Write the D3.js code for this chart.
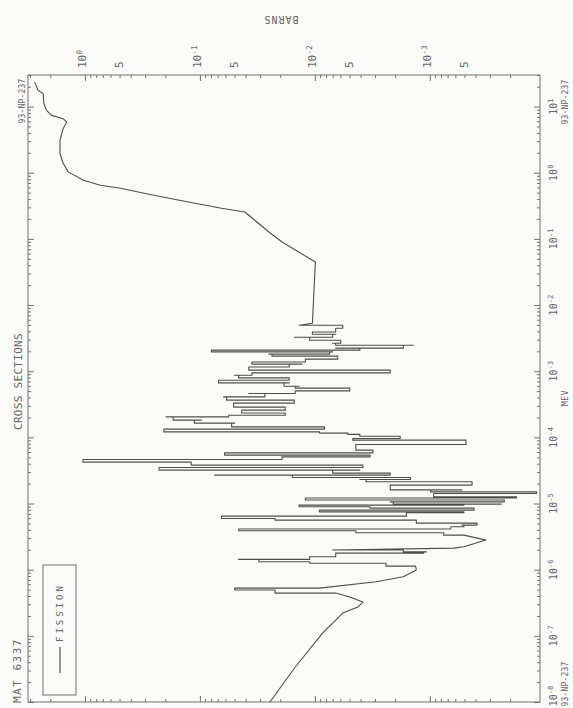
<!DOCTYPE html>
<html><head><meta charset="utf-8">
<script src="https://cdn.jsdelivr.net/npm/d3@7"></script>
<style>html,body{margin:0;padding:0;background:#fafaf8;}svg{display:block;}</style>
</head><body>
<svg id="c" width="573" height="708"></svg>
<script>
// Np-237 fission cross section (MeV, barns). Each level: energy, peak sigma, dip sigma
const energy = [
1.00e-8, 3.38e-8, 1.10e-7, 2.21e-7, 2.72e-7, 3.24e-7, 3.86e-7, 4.43e-7, 4.92e-7, 5.27e-7,
6.56e-7, 7.81e-7, 9.86e-7, 1.13e-6, 1.25e-6, 1.32e-6, 1.43e-6, 1.57e-6, 1.78e-6, 1.86e-6,
1.98e-6, 2.12e-6, 2.22e-6, 2.80e-6, 3.33e-6, 3.61e-6, 3.87e-6, 4.11e-6, 4.45e-6, 4.72e-6,
5.06e-6, 5.61e-6, 5.95e-6, 6.45e-6, 7.24e-6, 7.49e-6, 7.95e-6, 8.52e-6, 8.92e-6, 9.46e-6,
9.79e-6, 1.06e-5, 1.13e-5, 1.21e-5, 1.26e-5, 1.42e-5, 1.50e-5, 1.61e-5, 1.90e-5, 2.13e-5,
2.31e-5, 2.48e-5, 2.69e-5, 2.88e-5, 3.20e-5, 3.51e-5, 3.80e-5, 4.22e-5, 4.64e-5, 5.07e-5,
5.38e-5, 5.83e-5, 6.41e-5, 7.80e-5, 9.07e-5, 9.62e-5, 1.04e-4, 1.11e-4, 1.16e-4, 1.21e-4,
1.33e-4, 1.44e-4, 1.64e-4, 1.82e-4, 2.04e-4, 2.16e-4, 2.34e-4, 2.58e-4, 2.86e-4, 3.29e-4,
3.65e-4, 4.09e-4, 4.60e-4, 5.04e-4, 5.54e-4, 5.93e-4, 6.66e-4, 7.31e-4, 7.92e-4, 8.70e-4,
9.42e-4, 1.04e-3, 1.16e-3, 1.28e-3, 1.38e-3, 1.52e-3, 1.69e-3, 1.81e-3, 1.96e-3, 2.08e-3,
2.23e-3, 2.47e-3, 2.65e-3, 2.94e-3, 3.26e-3, 3.62e-3, 3.92e-3, 4.46e-3, 4.95e-3, 5.31e-3,
4.48e-2, 8.97e-2, 0.127, 0.191, 0.255, 0.290, 0.361, 0.456, 0.581, 0.646,
0.767, 1.03, 1.39, 1.96, 3.08, 4.63, 5.83, 6.56, 7.36, 8.77,
11.2, 15.7, 17.6, 23.4];

const sigmaPeak = [
0.0246, 0.0148, 0.00857, 0.00572, 0.00423, 0.00382, 0.00497, 0.0222, 0.0499, 0.0251,
0.00293, 0.00170, 0.00131, 0.00240, 0.0111, 0.0307, 0.0460, 0.00912, 0.00659, 0.00170,
0.00700, 0.000618, 0.000505, 0.000324, 0.000757, 0.00440, 0.0460, 0.00170, 0.000581, 0.000526,
0.00131, 0.0222, 0.0649, 0.00359, 0.00113, 0.00912, 0.000712, 0.00331, 0.0137, 0.0137,
0.00208, 0.00221, 0.0121, 0.000926, 0.000926, 0.000757, 0.000984, 0.00221, 0.00139, 0.00359,
0.00406, 0.0157, 0.0747, 0.00700, 0.227, 0.119, 0.119, 1.04, 0.0747, 0.00700,
0.0610, 0.00331, 0.00440, 0.00325, 0.00468, 0.00468, 0.00406, 0.00517, 0.00912, 0.206,
0.0307, 0.0530, 0.112, 0.171, 0.197, 0.0433, 0.0433, 0.0433, 0.0509, 0.0353,
0.0586, 0.0623, 0.0376, 0.0129, 0.0148, 0.0185, 0.0689, 0.0499, 0.0460, 0.0499,
0.0193, 0.0376, 0.0353, 0.0353, 0.0205, 0.00745, 0.0236, 0.0251, 0.0794, 0.00745,
0.00659, 0.00659, 0.00700, 0.0111, 0.0151, 0.0105, 0.00912, 0.00608, 0.0137, 0.0105,
0.0099, 0.0193, 0.0251, 0.0333, 0.0407, 0.0649, 0.126, 0.252, 0.491, 0.735,
1.03, 1.40, 1.55, 1.65, 1.65, 1.55, 1.44, 1.55, 1.95, 2.16,
2.28, 2.31, 2.56, 2.74];

const sigmaDip = [
0.0246, 0.0148, 0.00857, 0.00572, 0.00423, 0.00382, 0.00497, 0.00659, 0.0222, 0.00912,
0.00293, 0.00170, 0.00131, 0.00133, 0.00240, 0.0121, 0.0111, 0.00659, 0.00113, 0.00107,
0.00170, 0.000618, 0.000505, 0.000324, 0.000505, 0.000757, 0.00440, 0.000657, 0.000505, 0.000388,
0.000475, 0.00131, 0.0222, 0.00160, 0.000505, 0.000712, 0.000412, 0.000657, 0.00331, 0.000505,
0.000239, 0.000225, 0.00221, 0.000176, 0.000505, 0.000118, 0.000505, 0.000526, 0.000429, 0.00147,
0.00147, 0.00221, 0.00221, 0.00382, 0.00406, 0.00382, 0.00440, 0.119, 0.0193, 0.00331,
0.00700, 0.00312, 0.00312, 0.000484, 0.00113, 0.00181, 0.00271, 0.00406, 0.00517, 0.00912,
0.00824, 0.00912, 0.0499, 0.0972, 0.0563, 0.0181, 0.0333, 0.0181, 0.0181, 0.0151,
0.0289, 0.0272, 0.0148, 0.00497, 0.0111, 0.0137, 0.0167, 0.0167, 0.0251, 0.0353,
0.00221, 0.0193, 0.0167, 0.0129, 0.0121, 0.00633, 0.00659, 0.00745, 0.00700, 0.00406,
0.00170, 0.00139, 0.00596, 0.00700, 0.00700, 0.00659, 0.00659, 0.00572, 0.00572, 0.0105,
0.0099, 0.0193, 0.0251, 0.0333, 0.0407, 0.0649, 0.126, 0.252, 0.491, 0.735,
1.03, 1.40, 1.55, 1.65, 1.65, 1.55, 1.44, 1.55, 1.95, 2.16,
2.28, 2.31, 2.56, 2.74];

const energyExponents = [-8, -7, -6, -5, -4, -3, -2, -1, 0, 1];
const barnsExponents = [0, -1, -2, -3];
const barnsFives = [0.5, 0.05, 0.005, 0.0005];
const legendLabel = "FISSION";
const titleText = "CROSS SECTIONS";
const matText = "MAT 6337";
const isotopeText = "93-NP-237";

const svg = d3.select("#c");
const L = 28, R = 540, T = 75, B = 702;
const ink = "#4d4d4d", textInk = "#666", frameInk = "#707070";
const mono = "'DejaVu Sans Mono','Liberation Mono',monospace";

const xS = d3.scaleLog().domain([3.13, 1.1e-4]).range([L, R]);
const yE = d3.scaleLog().domain([1e-8, 30]).range([B, T]);

// frame
svg.append("rect").attr("x", L).attr("y", T).attr("width", R - L).attr("height", B - T)
  .attr("fill", "none").attr("stroke", frameInk).attr("stroke-width", 1);

// tick values
const eMinor = [], eMajor = [];
for (let k = -8; k <= 1; k++) for (let m = 1; m <= 9; m++) {
  const v = m * Math.pow(10, k);
  if (v <= 30) (m === 1 ? eMajor : eMinor).push(v);
}
const bMinor = [], bMajor = [];
for (let k = -4; k <= 0; k++) for (let m = 1; m <= 9; m++) {
  const v = m * Math.pow(10, k);
  if (v >= 1.1e-4 && v <= 3.13) (m === 1 ? bMajor : bMinor).push(v);
}
function axisG(axis, tx, ty) {
  const g = svg.append("g").attr("transform", `translate(${tx},${ty})`).call(axis);
  g.select(".domain").remove();
  g.selectAll("line").attr("stroke", frameInk);
  g.selectAll("text").remove();
  return g;
}
axisG(d3.axisRight(yE).tickValues(eMinor).tickSize(-3).tickFormat(""), R, 0);
axisG(d3.axisRight(yE).tickValues(eMajor).tickSize(-6).tickFormat(""), R, 0);
axisG(d3.axisLeft(yE).tickValues(eMinor).tickSize(-3).tickFormat(""), L, 0);
axisG(d3.axisLeft(yE).tickValues(eMajor).tickSize(-6).tickFormat(""), L, 0);
axisG(d3.axisTop(xS).tickValues(bMinor).tickSize(-3).tickFormat(""), 0, T);
axisG(d3.axisTop(xS).tickValues(bMajor).tickSize(-6).tickFormat(""), 0, T);
axisG(d3.axisBottom(xS).tickValues(bMinor).tickSize(-3).tickFormat(""), 0, B);
axisG(d3.axisBottom(xS).tickValues(bMajor).tickSize(-6).tickFormat(""), 0, B);

// rotated text helper
function rtext(x, y, angle, anchor, size, spacing) {
  return svg.append("text")
    .attr("transform", `translate(${x},${y}) rotate(${angle})`)
    .attr("text-anchor", anchor).attr("dy", "0.35em")
    .attr("font-family", mono).attr("font-size", size)
    .attr("letter-spacing", spacing).attr("fill", textInk);
}
function powerLabel(t, exp, size) {
  t.append("tspan").text("10");
  t.append("tspan").attr("dy", "-0.45em").attr("font-size", size * 0.72).text(String(exp));
}

// energy (MeV) labels on right edge (lowest one kept inside the page)
energyExponents.forEach(e => {
  const t = rtext(553, Math.min(yE(Math.pow(10, e)), 696), -90, "middle", 10, 0);
  powerLabel(t, e, 10);
});
// barns labels on top
barnsExponents.forEach(e => {
  const t = rtext(xS(Math.pow(10, e)) - 3, 68, -90, "start", 11, 0);
  powerLabel(t, e, 11);
});
barnsFives.forEach(v => {
  rtext(xS(v), 68, -90, "start", 11, 0).text("5");
});

rtext(281, 19, 180, "middle", 10, 1).text("BARNS");
rtext(565, 398, -90, "middle", 8, 0.5).text("MEV");
rtext(565, 102, -90, "middle", 8, 0.2).text(isotopeText);
rtext(565, 684, -90, "middle", 8, 0.2).text(isotopeText);
rtext(22, 101, -90, "middle", 8, 0.2).text(isotopeText);
rtext(18, 430, -90, "start", 11, 0.3).text(titleText);
rtext(17, 703, -90, "start", 11, 1.5).text(matText);

// legend
svg.append("rect").attr("x", 43).attr("y", 565).attr("width", 33).attr("height", 130)
  .attr("fill", "none").attr("stroke", frameInk).attr("stroke-width", 1);
svg.append("line").attr("x1", 60).attr("x2", 60).attr("y1", 673).attr("y2", 647)
  .attr("stroke", ink).attr("stroke-width", 1.2);
rtext(60, 642, -90, "start", 9, 3).text(legendLabel);

// curve: resonance levels drawn as peak/dip strokes at constant energy,
// joined by steps at constant cross section; smooth parts joined directly
const pts = [];
let last = null, lastWasLevel = false;
energy.forEach((E, i) => {
  const hi = sigmaPeak[i], lo = sigmaDip[i];
  if (hi === lo) { pts.push([E, hi]); lastWasLevel = false; }
  else {
    const a = [E, hi], b = [E, lo];
    let first = b, second = a;
    if (last && Math.abs(Math.log(last[1] / hi)) < Math.abs(Math.log(last[1] / lo))) { first = a; second = b; }
    if (last && lastWasLevel) pts.push([E, last[1]]);
    pts.push(first, second);
    lastWasLevel = true;
  }
  last = pts[pts.length - 1];
});
const line = d3.line().x(d => xS(d[1])).y(d => yE(d[0]));
svg.append("path").datum(pts).attr("d", line)
  .attr("fill", "none").attr("stroke", ink).attr("stroke-width", 1.1)
  .attr("stroke-linejoin", "round");
</script>
</body></html>
